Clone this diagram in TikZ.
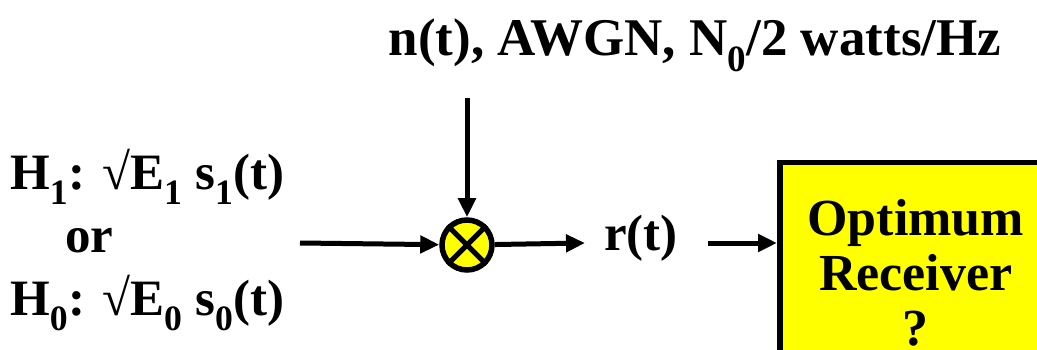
\documentclass[tikz,border=0pt]{standalone}
\usepackage{fontspec}
\setmainfont{Liberation Serif}
\usepackage{tikz}
\usetikzlibrary{calc,positioning,arrows.meta}
\definecolor{boxyellow}{rgb}{1,1,0}

\begin{document}
\begin{tikzpicture}[x=1pt, y=-1pt, >={Triangle[length=19pt,width=17pt]},
      label/.style={font=\fontsize{51}{63}\selectfont\bfseries, inner sep=0pt},
      mixer/.style={circle, draw=black, fill=boxyellow, line width=5.5pt, minimum size=50pt, inner sep=0pt},
      receiver/.style={draw=black, fill=boxyellow, line width=5.5pt, minimum width=272pt, minimum height=220pt, align=center, font=\fontsize{52}{55}\selectfont\bfseries},
      conn/.style={line width=5pt}]
      \useasboundingbox (0,0) rectangle (1037,350);
      \clip (0,0) rectangle (1037,350);
      \node[label, font=\fontsize{53}{63}\selectfont\bfseries] (noise) at (695,45) {n(t), AWGN, N\textsubscript{0}/2 watts/Hz};
      \node[mixer] (mix) at (467,245) {};
      \draw[conn] (mix.north east) -- (mix.south west);
      \draw[conn] (mix.north west) -- (mix.south east);
      \coordinate (ntop) at (467,98);
      \draw[conn,->] (ntop) -- (mix);
      \node[label, align=left, anchor=west] (hyp) at (10,240) {H\textsubscript{1}: √E\textsubscript{1} s\textsubscript{1}(t)\\\hspace{55pt}or\\H\textsubscript{0}: √E\textsubscript{0} s\textsubscript{0}(t)};
      \coordinate (in) at (300,243);
      \draw[conn,->] (in) -- (mix);
      \node[label] (rt) at (641,238) {r(t)};
      \coordinate (rtin) at (585,243);
      \draw[conn,->] (mix) -- (rtin);
      \node[receiver, anchor=north west] (rx) at (777,160) {Optimum\\Receiver\\?};
      \coordinate (rtout) at (708,243);
      \draw[conn,->] (rtout) -- (rtout -| rx.west);
\end{tikzpicture}
\end{document}
